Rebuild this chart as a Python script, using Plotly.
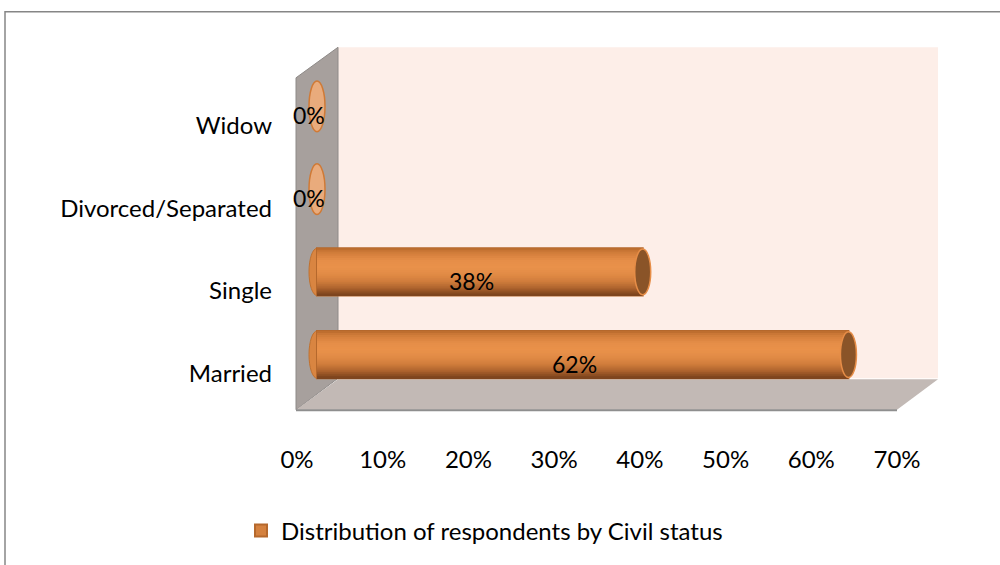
import plotly.graph_objects as go

# Civil status distribution (percent of respondents)
categories = ["Married", "Single", "Divorced/Separated", "Widow"]
values = [62, 38, 0, 0]
tick_values = [0, 10, 20, 30, 40, 50, 60, 70]
tick_labels = ["0%", "10%", "20%", "30%", "40%", "50%", "60%", "70%"]
series_name = "Distribution of respondents by Civil status"

FONT = "Lato"
W, H = 1000, 565
L, R, T, B = 287, 83, 65, 164
PW, PH = W - L - R, H - T - B
X_MIN, X_MAX = -3.5, 70
UNIT = PW / (X_MAX - X_MIN)          # pixels per percentage point


def px(x):
    return (x - L) / PW


def py(y):
    return 1 - (y - T) / PH


BAR_H = 0.571                          # cylinder thickness in category units
CAP_HALF_W = 8 / UNIT                  # half width of the elliptical ends

# shading profile across the cylinder, from its top edge to its bottom edge
shade_stops = [(0.00, "#B86A2C"), (0.08, "#CF7B39"), (0.25, "#E58D48"), (0.40, "#E9914A"),
               (0.55, "#E28B46"), (0.70, "#D07D3C"), (0.85, "#AC622D"), (0.95, "#874B21"),
               (1.00, "#77411B")]


def shade(t):
    for (t0, c0), (t1, c1) in zip(shade_stops, shade_stops[1:]):
        if t0 <= t <= t1:
            f = (t - t0) / (t1 - t0) if t1 > t0 else 0
            a = [int(c0[i:i + 2], 16) for i in (1, 3, 5)]
            b = [int(c1[i:i + 2], 16) for i in (1, 3, 5)]
            return "rgb({},{},{})".format(*[round(x + (y - x) * f) for x, y in zip(a, b)])
    return shade_stops[-1][1]


fig = go.Figure()

# base body, also provides the legend entry
fig.add_trace(go.Bar(
    x=values, y=categories, orientation="h", name=series_name,
    width=BAR_H, marker=dict(color="#D4813F", line=dict(color="#B5682C", width=2)),
    showlegend=True, hoverinfo="skip",
))
NB = 24
bh = BAR_H / NB
for k in range(NB):
    ext = 0.8 * bh if k < NB - 1 else 0.0   # overlap the next band to hide seams
    fig.add_trace(go.Bar(
        x=values, y=categories, orientation="h",
        width=bh + ext, offset=BAR_H / 2 - bh * (k + 1) - ext,
        marker=dict(color=shade((k + 0.5) / NB), line=dict(width=0)),
        showlegend=False, hoverinfo="skip",
    ))

shapes = []
# outer chart border
shapes.append(dict(type="rect", xref="paper", yref="paper",
                   x0=px(5), x1=px(1010), y0=py(11), y1=py(580),
                   line=dict(color="#868686", width=1.5), fillcolor="rgba(0,0,0,0)",
                   layer="below"))
# back wall
shapes.append(dict(type="rect", xref="paper", yref="paper",
                   x0=px(338), x1=px(938), y0=py(383), y1=py(47),
                   line=dict(width=0), fillcolor="#FDEEE8", layer="below"))
# side wall
shapes.append(dict(type="path", xref="paper", yref="paper",
                   path=f"M{px(296)},{py(78)} L{px(338)},{py(47)} L{px(338)},{py(383)} L{px(296)},{py(415)} Z",
                   line=dict(color="#8E8A88", width=1), fillcolor="#A7A09D", layer="below"))
# floor
shapes.append(dict(type="path", xref="paper", yref="paper",
                   path=f"M{px(296)},{py(415)} L{px(338)},{py(384)} L{px(938)},{py(384)} L{px(897)},{py(415)} Z",
                   line=dict(width=0), fillcolor="#C2B9B5", layer="below"))
shapes.append(dict(type="line", xref="paper", yref="paper",
                   x0=px(296), x1=px(897), y0=py(415.5), y1=py(415.5),
                   line=dict(color="#8E8E8E", width=2), layer="below"))

# elliptical ends of each cylinder
for i, (cat, v) in enumerate(zip(categories, values)):
    if v > 0:
        shapes.append(dict(type="circle", xref="x", yref="y",
                           x0=-CAP_HALF_W, x1=CAP_HALF_W,
                           y0=i - BAR_H / 2, y1=i + BAR_H / 2,
                           line=dict(color="#C0712F", width=1), fillcolor="#D98541",
                           layer="below"))
        shapes.append(dict(type="circle", xref="x", yref="y",
                           x0=v - CAP_HALF_W, x1=v + CAP_HALF_W,
                           y0=i - BAR_H / 2 + 0.01, y1=i + BAR_H / 2 - 0.01,
                           line=dict(color="#E68D47", width=1.5), fillcolor="#8A5428",
                           layer="above"))
    else:
        shapes.append(dict(type="circle", xref="x", yref="y",
                           x0=v - CAP_HALF_W, x1=v + CAP_HALF_W,
                           y0=i - BAR_H / 2 - 0.02, y1=i + BAR_H / 2 + 0.02,
                           line=dict(color="#D07A36", width=1.5), fillcolor="#E9AB7C",
                           layer="above"))

# value labels
annotations = []
for cat, v in zip(categories, values):
    annotations.append(dict(x=v / 2, y=cat, xref="x", yref="y", text=f"{v}%",
                            showarrow=False, xshift=-8, yshift=-9,
                            font=dict(family=FONT, size=23, color="#000000")))

fig.update_layout(
    width=W, height=H,
    margin=dict(l=L, r=R, t=T, b=B, pad=0),
    paper_bgcolor="#FFFFFF", plot_bgcolor="rgba(0,0,0,0)",
    barmode="overlay",
    font=dict(family=FONT, size=24, color="#000000"),
    shapes=shapes, annotations=annotations,
    showlegend=True,
    legend=dict(orientation="h", x=px(241), xanchor="left", y=py(538), yanchor="middle",
                font=dict(family=FONT, size=24, color="#000000"),
                bgcolor="rgba(0,0,0,0)", itemclick=False),
    xaxis=dict(range=[X_MIN, X_MAX], tickvals=tick_values, ticktext=tick_labels,
               showgrid=False, zeroline=False, showline=False, ticks="",
               ticklabelshift=-20, ticklabelstandoff=47, fixedrange=True),
    yaxis=dict(type="category", categoryorder="array", categoryarray=categories,
               range=[-0.5, 3.5], showgrid=False, zeroline=False, showline=False,
               ticks="", ticklabelshift=19, ticklabelstandoff=14, fixedrange=True),
)

fig.write_html("out.html")
